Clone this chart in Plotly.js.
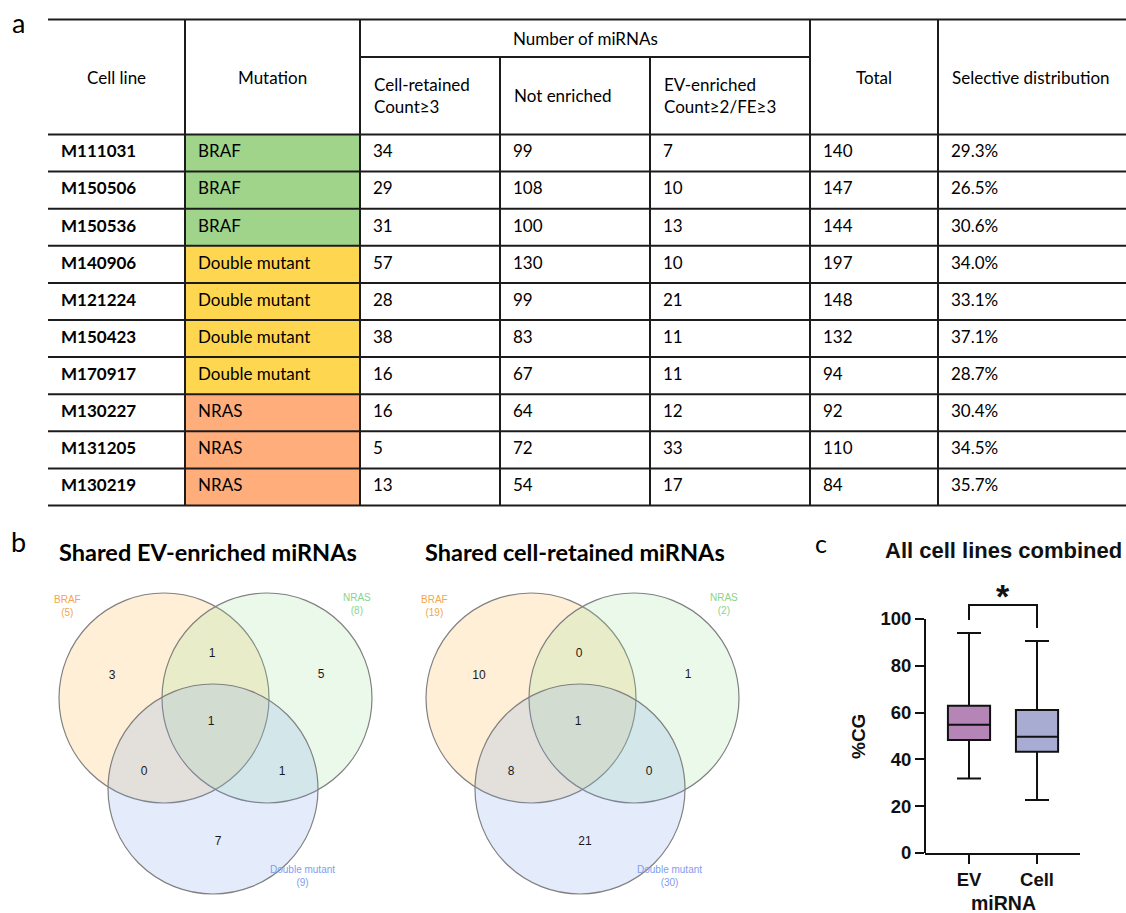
<!DOCTYPE html>
<html><head><meta charset="utf-8">
<script src="https://cdn.plot.ly/plotly-3.0.1.min.js"></script>
<style>html,body{margin:0;padding:0;background:#fff}#chart{width:1126px;height:913px}</style>
</head><body><div id="chart"></div>
<script>
// ---------- Panel a: table data ----------
const cellLines = ['M111031','M150506','M150536','M140906','M121224','M150423','M170917','M130227','M131205','M130219'];
const mutations = ['BRAF','BRAF','BRAF','Double mutant','Double mutant','Double mutant','Double mutant','NRAS','NRAS','NRAS'];
const cellRetained = [34,29,31,57,28,38,16,16,5,13];
const notEnriched = [99,108,100,130,99,83,67,64,72,54];
const evEnriched = [7,10,13,10,21,11,11,12,33,17];
const totals = [140,147,144,197,148,132,94,92,110,84];
const selectiveDistribution = [29.3,26.5,30.6,34.0,33.1,37.1,28.7,30.4,34.5,35.7];

// ---------- Panel b: Venn data ----------
const vennSets = ['BRAF','NRAS','Double mutant'];
const vennRegions = ['BRAF only','NRAS only','Double mutant only','BRAF∩NRAS','BRAF∩Double mutant','NRAS∩Double mutant','All three'];
const evEnrichedShared = [3,5,7,1,0,1,1];
const cellRetainedShared = [10,1,21,0,8,0,1];
const evSetTotals = [5,8,9];
const cellSetTotals = [19,2,30];

// ---------- Panel c: box plot data ----------
const boxGroups = ['EV','Cell'];
const boxMin = [31.8,22.6];
const boxQ1 = [48.3,43.3];
const boxMedian = [54.8,49.7];
const boxQ3 = [62.9,61.1];
const boxMax = [94.0,90.6];
const yTicks = [0,20,40,60,80,100];

// ---------- layout constants ----------
const W = 1126, H = 913;
const colEdges = [48,185,360,500,650,810,938,1126];
const tableTop = 19.5, subHeadLine = 57, headBottom = 134.5, rowH = 37.1;
const nRows = cellLines.length;
const tableBottom = headBottom + rowH*nRows;
const rowCenters = cellLines.map((_,i)=>headBottom + rowH*(i+0.5));
const mutColors = {'BRAF':'#A0D48A','Double mutant':'#FFD64F','NRAS':'#FFAD7A'};
const lineCol = '#1c1c1c';
const tFont = 'Lato, "Open Sans", sans-serif';
const aFont = '"Liberation Sans", Arial, sans-serif';

const traces = [];
const shapes = [];
const annotations = [];

// table fills
mutations.forEach((m,i)=>{
  shapes.push({type:'rect', xref:'x', yref:'y', layer:'below',
    x0:colEdges[1], x1:colEdges[2], y0:headBottom+rowH*i, y1:headBottom+rowH*(i+1),
    fillcolor:mutColors[m], line:{width:0}});
});
// table lines
function hline(y,x0,x1){shapes.push({type:'line',xref:'x',yref:'y',layer:'below',x0:x0,x1:x1,y0:y,y1:y,line:{color:lineCol,width:2}});}
function vline(x,y0,y1){shapes.push({type:'line',xref:'x',yref:'y',layer:'below',x0:x,x1:x,y0:y0,y1:y1,line:{color:lineCol,width:2}});}
hline(tableTop, colEdges[0], W);
hline(subHeadLine, colEdges[2], colEdges[5]);
for(let i=0;i<=nRows;i++) hline(headBottom+rowH*i, colEdges[0], W);
[1,2,5,6].forEach(c=>vline(colEdges[c], tableTop, tableBottom));
[3,4].forEach(c=>vline(colEdges[c], subHeadLine, tableBottom));

// table cell text
function colText(c, texts, bold){
  traces.push({type:'scatter', mode:'text', xaxis:'x', yaxis:'y',
    x: texts.map(()=>colEdges[c]+13), y: rowCenters, text: texts,
    textposition:'middle right', cliponaxis:false, hoverinfo:'skip', showlegend:false,
    textfont:{family:tFont, size:17, color:'#000', weight: bold?700:400}});
}
colText(0, cellLines, true);
colText(1, mutations, false);
colText(2, cellRetained.map(String), false);
colText(3, notEnriched.map(String), false);
colText(4, evEnriched.map(String), false);
colText(5, totals.map(String), false);
colText(6, selectiveDistribution.map(v=>v.toFixed(1)+'%'), false);

// header text
function ann(text,x,y,opt){annotations.push(Object.assign({text:text,x:x,y:y,xref:'x',yref:'y',showarrow:false,
  font:{family:tFont,size:17,color:'#000'}},opt||{}));}
const headMidY = (tableTop+headBottom)/2;
ann('Cell line',(colEdges[0]+colEdges[1])/2,headMidY);
ann('Mutation',(colEdges[1]+colEdges[2])/2,headMidY);
ann('Number of miRNAs',(colEdges[2]+colEdges[5])/2,(tableTop+subHeadLine)/2);
const subMidY = (subHeadLine+headBottom)/2;
ann('Cell-retained<br>Count≥3',colEdges[2]+12,subMidY,{xanchor:'left',align:'left'});
ann('Not enriched',colEdges[3]+12,subMidY,{xanchor:'left'});
ann('EV-enriched<br>Count≥2/FE≥3',colEdges[4]+12,subMidY,{xanchor:'left',align:'left'});
ann('Total',(colEdges[5]+colEdges[6])/2,headMidY);
ann('Selective distribution',colEdges[6]+12,headMidY,{xanchor:'left'});

// panel letters
ann('a',18,22,{font:{family:tFont,size:27,color:'#000'}});
ann('b',18,541,{font:{family:tFont,size:27,color:'#000'}});
ann('c',821,543,{font:{family:tFont,size:25,color:'#000'}});

// ---------- Venn diagrams ----------
const R = 105;
const circleOffsets = [[0,0],[103,0],[49,91]];
const circleFills = ['rgba(250,190,90,0.25)','rgba(150,225,150,0.2)','rgba(120,160,240,0.2)'];
const labelColors = ['#F4A64C','#8AD48B','#7F9DEF'];
const labelOffsets = [[-97,-92],[193,-94],[138,178]];
const regionOffsets = [[-52,-22],[157,-23],[54,144],[48,-44],[-20,74],[118,74],[47,24]];

function venn(ox, oy, counts, setTotals, title){
  circleOffsets.forEach((o,k)=>{
    shapes.push({type:'circle',xref:'x',yref:'y',layer:'below',
      x0:ox+o[0]-R,x1:ox+o[0]+R,y0:oy+o[1]-R,y1:oy+o[1]+R,
      fillcolor:circleFills[k], line:{color:'#808080',width:1.2}});
  });
  traces.push({type:'scatter',mode:'text',xaxis:'x',yaxis:'y',
    x: regionOffsets.map(o=>ox+o[0]), y: regionOffsets.map(o=>oy+o[1]),
    text: counts.map(String), textposition:'middle center', hoverinfo:'skip', showlegend:false,
    textfont:{family:aFont,size:12,color:'#1a1a1a'}});
  vennSets.forEach((s,k)=>{
    annotations.push({text:s+'<br>('+setTotals[k]+')', x:ox+labelOffsets[k][0], y:oy+labelOffsets[k][1],
      xref:'x',yref:'y',showarrow:false, font:{family:aFont,size:10,color:labelColors[k]}});
  });
  annotations.push({text:title, x:ox+44, y:552, xref:'x', yref:'y', showarrow:false,
    font:{family:tFont,size:23.5,color:'#000',weight:700}});
}
venn(164, 698, evEnrichedShared, evSetTotals, 'Shared EV-enriched miRNAs');
venn(531, 698, cellRetainedShared, cellSetTotals, 'Shared cell-retained miRNAs');

// ---------- Box plot ----------
const boxFills = ['#B585B7','#A8ACD2'];
boxGroups.forEach((g,i)=>{
  traces.push({type:'box', xaxis:'x2', yaxis:'y2', x:[g],
    q1:[boxQ1[i]], median:[boxMedian[i]], q3:[boxQ3[i]],
    lowerfence:[boxMin[i]], upperfence:[boxMax[i]],
    fillcolor:boxFills[i], line:{color:'#111',width:2},
    width:0.62, whiskerwidth:0.57, boxpoints:false, hoverinfo:'skip', showlegend:false});
});
// significance bracket
traces.push({type:'scatter', mode:'lines', xaxis:'x2', yaxis:'y2',
  x:['EV','EV','Cell','Cell'], y:[99.6,106,106,96.2],
  line:{color:'#111',width:2}, hoverinfo:'skip', showlegend:false});
annotations.push({text:'*', xref:'x2', yref:'y2', x:0.5, y:110, showarrow:false,
  font:{family:aFont,size:34,color:'#111',weight:700}});
// y axis line (0..100)
shapes.push({type:'line', xref:'x2 domain', yref:'y2', x0:0, x1:0, y0:0, y1:100, line:{color:'#111',width:2}});

const bFont = {family:aFont,color:'#111',weight:700};
annotations.push({text:'All cell lines combined', x:1003.5, y:550, xref:'x', yref:'y', showarrow:false,
  font:Object.assign({},bFont,{size:22})});
annotations.push({text:'%CG', x:858, y:737, xref:'x', yref:'y', showarrow:false, textangle:-90,
  font:Object.assign({},bFont,{size:19})});
annotations.push({text:'miRNA', x:1003, y:903, xref:'x', yref:'y', showarrow:false,
  font:Object.assign({},bFont,{size:19.5})});

const layout = {
  width:W, height:H, margin:{l:0,r:0,t:0,b:0},
  paper_bgcolor:'#fff', plot_bgcolor:'rgba(0,0,0,0)', showlegend:false,
  xaxis:{domain:[0,1], range:[0,W], visible:false, fixedrange:true},
  yaxis:{domain:[0,1], range:[H,0], visible:false, fixedrange:true},
  xaxis2:{domain:[925/W,1080/W], anchor:'y2', type:'category', range:[-0.647,1.632],
    showline:true, linewidth:2, linecolor:'#111', ticks:'outside', ticklen:9, tickwidth:2, tickcolor:'#111',
    tickfont:Object.assign({},bFont,{size:18.5}), showgrid:false, zeroline:false, fixedrange:true},
  yaxis2:{domain:[1-853/H, 1-579.2/H], anchor:'x2', range:[0,117], tickvals:yTicks,
    showline:false, ticks:'outside', ticklen:9, tickwidth:2, tickcolor:'#111',
    tickfont:Object.assign({},bFont,{size:18.5}), showgrid:false, zeroline:false, fixedrange:true},
  shapes:shapes, annotations:annotations
};
Plotly.newPlot('chart', traces, layout, {displayModeBar:false, staticPlot:true});
</script></body></html>
